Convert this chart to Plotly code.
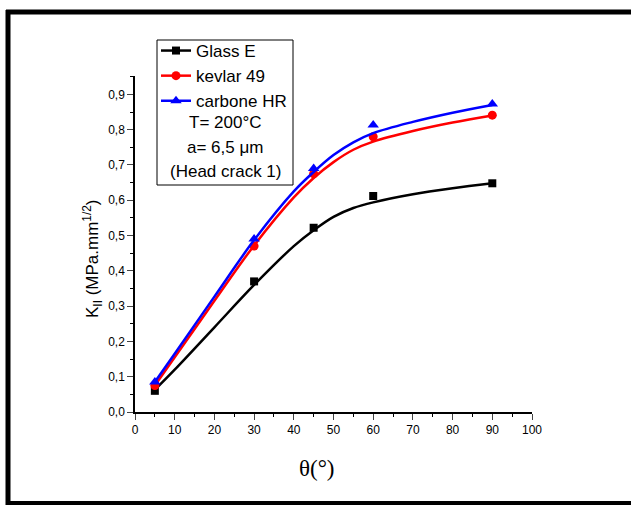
import plotly.graph_objects as go

# measured points
theta = [5, 30, 45, 60, 90]
glass_e = [0.06, 0.37, 0.522, 0.612, 0.648]
kevlar_49 = [0.075, 0.47, 0.675, 0.78, 0.841]
carbone_hr = [0.085, 0.49, 0.69, 0.813, 0.873]

# fitted curves
fit_theta = [5, 10, 20, 30, 40, 45, 50, 55, 60, 70, 80, 90]
fit_glass_e = [0.063, 0.12, 0.24, 0.36, 0.47, 0.515, 0.553, 0.578, 0.594, 0.617, 0.634, 0.648]
fit_kevlar_49 = [0.075, 0.155, 0.315, 0.472, 0.608, 0.663, 0.708, 0.743, 0.766, 0.796, 0.82, 0.84]
fit_carbone_hr = [0.085, 0.165, 0.327, 0.487, 0.625, 0.68, 0.728, 0.764, 0.79, 0.822, 0.848, 0.87]

x_ticks = [0, 10, 20, 30, 40, 50, 60, 70, 80, 90, 100]
y_ticks = [0.0, 0.1, 0.2, 0.3, 0.4, 0.5, 0.6, 0.7, 0.8, 0.9]

series = [
    ("Glass E", glass_e, fit_glass_e, "black", "square", 8),
    ("kevlar 49", kevlar_49, fit_kevlar_49, "#ff0000", "circle", 9),
    ("carbone HR", carbone_hr, fit_carbone_hr, "#0000ff", "triangle-up", 10),
]

fig = go.Figure()
for name, pts, fit, col, sym, sz in series:
    fig.add_trace(go.Scatter(x=fit_theta, y=fit, mode="lines", line=dict(color=col, width=2.5, shape="spline"),
                             showlegend=False, hoverinfo="skip"))
    fig.add_trace(go.Scatter(x=theta, y=pts, mode="markers", marker=dict(color=col, symbol=sym, size=sz),
                             showlegend=False))
    fig.add_trace(go.Scatter(x=[None], y=[None], mode="lines+markers", name=name,
                             line=dict(color=col, width=2.5), marker=dict(color=col, symbol=sym, size=sz)))

L, R, T, B = 135, 99, 76, 94
W, H = 631, 506
pw, ph = W - L - R, H - T - B

def px(x):
    return (x - L) / pw

def py(y):
    return (H - B - y) / ph

FONT = "Arial, Liberation Sans"
axis_font = dict(family=FONT, size=12, color="black")

def note(x, y, text, size=17, family=FONT, angle=0):
    return dict(xref="paper", yref="paper", x=px(x), y=py(y), text=text, showarrow=False,
                xanchor="center", yanchor="middle", textangle=angle,
                font=dict(family=family, size=size, color="black"))

fig.update_layout(
    width=W, height=H, margin=dict(l=L, r=R, t=T, b=B),
    paper_bgcolor="white", plot_bgcolor="white",
    separators=", ",
    legend=dict(x=px(156), y=py(33), xanchor="left", yanchor="top", bgcolor="rgba(0,0,0,0)",
                font=dict(family=FONT, size=17, color="black"),
                tracegroupgap=0, itemwidth=30),
    xaxis=dict(range=[0, 100], tickvals=x_ticks, ticks="outside", ticklen=6, tickwidth=1.2,
               showline=True, linecolor="black", linewidth=1.5, showgrid=False, zeroline=False,
               tickfont=axis_font, minor=dict(dtick=5, ticks="outside", ticklen=3, tickcolor="black")),
    yaxis=dict(range=[0, 0.952], tickvals=y_ticks, tickformat=".1f", ticks="outside", ticklen=6, tickwidth=1.2,
               showline=True, linecolor="black", linewidth=1.5, showgrid=False, zeroline=False,
               tickfont=axis_font, minor=dict(dtick=0.05, ticks="outside", ticklen=3, tickcolor="black")),
    shapes=[
        dict(type="rect", xref="paper", yref="paper", x0=px(157), x1=px(293), y0=py(185), y1=py(40),
             line=dict(color="black", width=1)),
        dict(type="line", xref="paper", yref="paper", x0=px(8), x1=px(8), y0=py(10), y1=py(505),
             line=dict(color="black", width=5)),
        dict(type="line", xref="paper", yref="paper", x0=px(6), x1=px(635), y0=py(12), y1=py(12),
             line=dict(color="black", width=5)),
        dict(type="line", xref="paper", yref="paper", x0=px(6), x1=px(635), y0=py(503), y1=py(503),
             line=dict(color="black", width=4)),
    ],
    annotations=[
        note(225, 123, "T= 200°C"),
        note(225, 147, "a= 6,5 μm"),
        note(225, 171, "(Head crack 1)"),
        note(92, 259, "K<sub>II</sub> (MPa.mm<sup>1/2</sup>)", angle=-90),
        note(317, 468, "θ(°)", size=23, family="Liberation Serif, Times New Roman"),
    ],
)

fig.write_html("out.html")
